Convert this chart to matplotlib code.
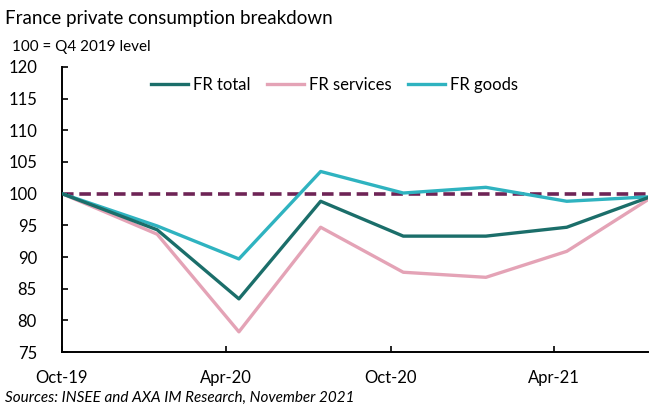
import matplotlib
matplotlib.use("Agg")
import matplotlib.pyplot as plt
import pandas as pd

# quarterly index, 100 = Q4 2019
dates = pd.to_datetime(["2019-10-01", "2020-01-15", "2020-04-15", "2020-07-15",
                        "2020-10-15", "2021-01-15", "2021-04-15", "2021-07-15"])
fr_total = [100, 94.3, 83.4, 98.8, 93.3, 93.3, 94.7, 99.4]
fr_services = [100, 93.6, 78.2, 94.7, 87.6, 86.8, 90.9, 99.1]
fr_goods = [100, 94.9, 89.7, 103.5, 100.1, 101.0, 98.8, 99.5]
tick_dates = pd.to_datetime(["2019-10-01", "2020-04-01", "2020-10-01", "2021-04-01"])
tick_labels = ["Oct-19", "Apr-20", "Oct-20", "Apr-21"]

plt.rcParams['font.family'] = ['Lato', 'DejaVu Sans']

fig = plt.figure(figsize=(6.56, 4.08), dpi=100)
ax = fig.add_axes([0.0945, 0.137, 0.894, 0.699])

ax.plot(dates, [100] * len(dates), color='#6e2456', lw=2.6, dashes=(3.2, 1.6), zorder=1)
ax.plot(dates, fr_total, color='#1b6e6a', lw=2.4, label='FR total', zorder=3)
ax.plot(dates, fr_services, color='#e4a3b6', lw=2.4, label='FR services', zorder=2)
ax.plot(dates, fr_goods, color='#2fb3c0', lw=2.4, label='FR goods', zorder=2)

ax.set_ylim(75, 120)
ax.set_yticks(range(75, 121, 5))
ax.set_xlim(dates[0], dates[-1])
ax.set_xticks(tick_dates)
ax.set_xticklabels(tick_labels)
ax.tick_params(axis='both', direction='in', length=4, width=1.2, labelsize=12, colors='black')
ax.tick_params(axis='x', pad=13)
ax.tick_params(axis='y', pad=18)
for side in ['top', 'right']:
    ax.spines[side].set_visible(False)
for side in ['left', 'bottom']:
    ax.spines[side].set_linewidth(1.4)

ax.legend(loc='upper center', bbox_to_anchor=(0.465, 1.017), ncol=3, frameon=False,
          fontsize=12, handlelength=2.2, handletextpad=0.3, columnspacing=1.0)

fig.text(0.008, 0.955, "France private consumption breakdown", fontsize=13.5, va='center')
fig.text(0.018, 0.885, "100 = Q4 2019 level", fontsize=11, va='center')
fig.text(0.008, 0.025, "Sources: INSEE and AXA IM Research, November 2021",
         fontsize=11, style='italic', va='center')

fig.savefig("out.png", dpi=100)
